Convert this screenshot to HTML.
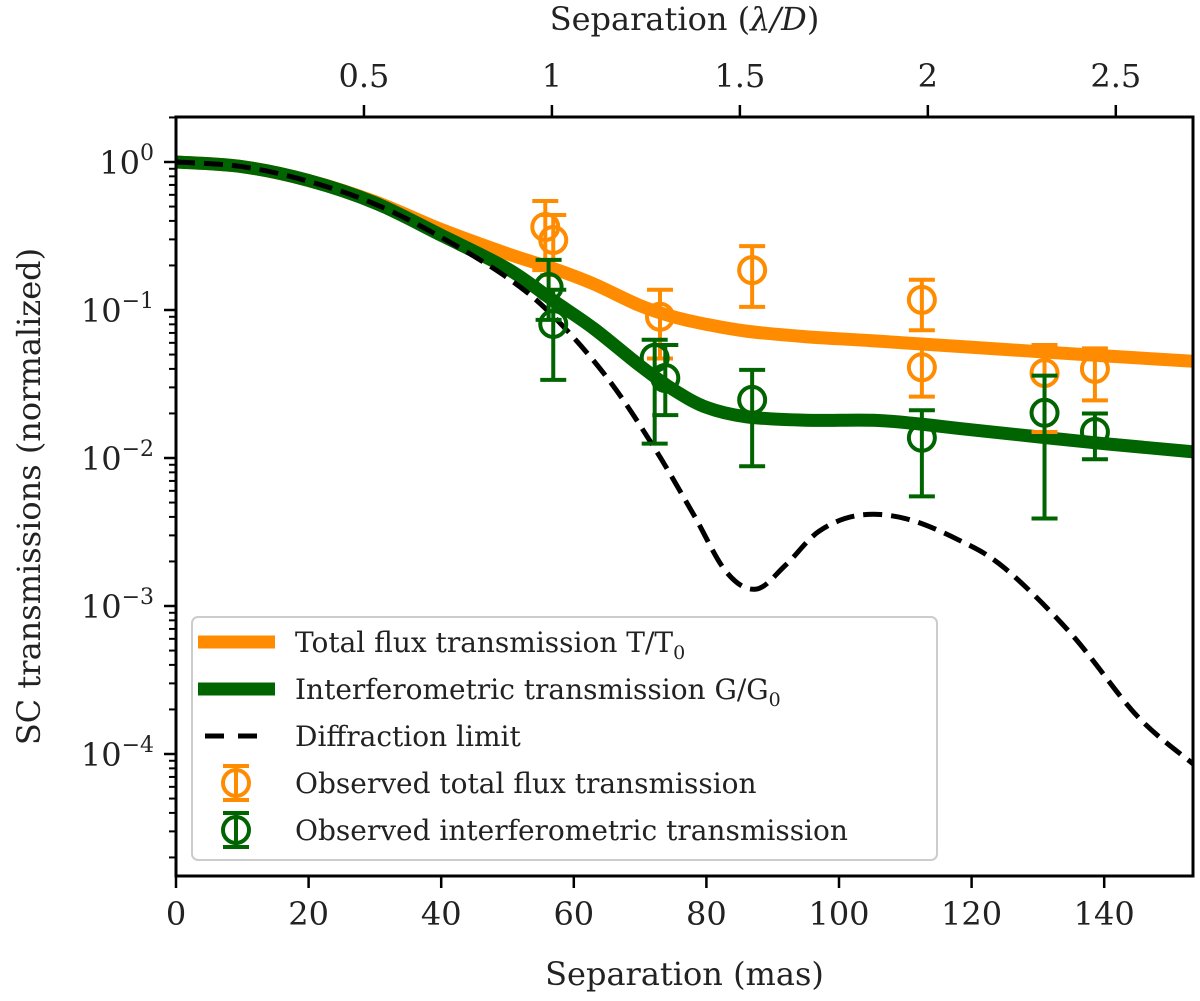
<!DOCTYPE html>
<html><head><meta charset="utf-8"><style>
html,body{margin:0;padding:0;background:#fff;}
svg{display:block;font-family:"DejaVu Serif","Liberation Serif",serif;}
</style></head><body>
<svg id="chart" width="1200" height="1001" viewBox="0 0 1200 1001" xmlns="http://www.w3.org/2000/svg">
<g id="plot"></g>
<g id="axes"></g>
<g id="legend"></g>
</svg>
<script>
// ---- data ----
const totalX = [0,10,20,30,40,50,57,63,70,75,80,86,95,105,120,140,153.5];
const totalY = [1,0.93,0.75,0.54,0.35,0.24,0.19,0.15,0.107,0.09,0.08,0.072,0.066,0.062,0.056,0.049,0.045];
const interX = [0,10,20,30,40,50,57,63,70,75,80,86,95,105,112,120,140,153.5];
const interY = [1,0.93,0.75,0.53,0.32,0.19,0.115,0.075,0.042,0.029,0.022,0.019,0.018,0.018,0.017,0.0155,0.0125,0.011];
const diffX = [0,10,20,30,40,50,57,65,72,78,83,87.5,92,97,103,110,118,125,135,145,153.5];
const diffY = [1,0.93,0.74,0.52,0.31,0.165,0.09,0.035,0.012,0.0042,0.0017,0.0013,0.0019,0.0032,0.0041,0.0039,0.0028,0.0018,0.00065,0.00018,0.000085];
const obsTotX = [55.7,56.9,73,86.9,112.5,112.5,131,138.6];
const obsTotY = [0.364,0.297,0.090,0.186,0.117,0.041,0.0375,0.040];
const obsTotLo = [0.186,0.172,0.047,0.105,0.073,0.026,0.015,0.0245];
const obsTotHi = [0.545,0.438,0.137,0.270,0.160,0.056,0.058,0.055];
const obsIntX = [56.2,56.9,72.2,73.8,86.9,112.5,131,138.6];
const obsIntY = [0.143,0.0805,0.0475,0.0347,0.0247,0.0137,0.0202,0.015];
const obsIntLo = [0.0857,0.0337,0.0125,0.0195,0.0088,0.0055,0.0039,0.0098];
const obsIntHi = [0.218,0.137,0.063,0.058,0.0394,0.021,0.036,0.020];
const xTicks = [0,20,40,60,80,100,120,140];
const topTicks = [0.5,1,1.5,2,2.5];
const topTickLabels = ["0.5","1","1.5","2","2.5"];
const yExp = [0,-1,-2,-3,-4];

// ---- scales ----
const L=176,R=1193,T=117,B=876;
const X0=176,PXM=6.63;
const MAS_PER_LD=56.7;
const Y0=162,PXD=148;
const sx=v=>X0+v*PXM;
const sy=v=>Y0-Math.log10(v)*PXD;
const NS="http://www.w3.org/2000/svg";
function mk(tag,attrs,parent){const e=document.createElementNS(NS,tag);for(const k in attrs)e.setAttribute(k,attrs[k]);parent.appendChild(e);return e;}
const plot=document.getElementById('plot'),axes=document.getElementById('axes'),leg=document.getElementById('legend');

const cp=mk('clipPath',{id:'clip'},plot);
mk('rect',{x:L,y:T,width:R-L,height:B-T},cp);

function smoothPath(xs,ys){
  const p=xs.map((x,i)=>[sx(x),sy(ys[i])]);
  let d=`M${p[0][0]},${p[0][1]}`;
  for(let i=0;i<p.length-1;i++){
    const p0=p[i-1]||p[i],p1=p[i],p2=p[i+1],p3=p[i+2]||p2;
    const c1=[p1[0]+(p2[0]-p0[0])/6,p1[1]+(p2[1]-p0[1])/6];
    const c2=[p2[0]-(p3[0]-p1[0])/6,p2[1]-(p3[1]-p1[1])/6];
    d+=` C${c1[0]},${c1[1]} ${c2[0]},${c2[1]} ${p2[0]},${p2[1]}`;
  }
  return d;
}
const g=mk('g',{'clip-path':'url(#clip)'},plot);
let e;
e=mk('path',{d:smoothPath(totalX,totalY),fill:'none',stroke:'#ff8c00','stroke-width':13,'stroke-linejoin':'round'},g);


e=mk('path',{d:smoothPath(interX,interY),fill:'none',stroke:'#006400','stroke-width':13,'stroke-linejoin':'round'},g);


e=mk('path',{d:smoothPath(diffX,diffY),fill:'none',stroke:'#000','stroke-width':5,'stroke-dasharray':'19,9'},g);



function points(xs,ys,lo,hi,col,name){
  xs.forEach((x,i)=>{
    const gg=mk('g',{},plot);
    
    
    const cx=sx(x),cy=sy(ys[i]),y1=sy(hi[i]),y2=sy(lo[i]);
    mk('line',{x1:cx,x2:cx,y1:y1,y2:y2,stroke:col,'stroke-width':4},gg);
    mk('line',{x1:cx-13,x2:cx+13,y1:y1,y2:y1,stroke:col,'stroke-width':4},gg);
    mk('line',{x1:cx-13,x2:cx+13,y1:y2,y2:y2,stroke:col,'stroke-width':4},gg);
    mk('circle',{cx:cx,cy:cy,r:13,fill:'none',stroke:col,'stroke-width':4},gg);
  });
}
points(obsTotX,obsTotY,obsTotLo,obsTotHi,'#ff8c00','observed-total-point');
points(obsIntX,obsIntY,obsIntLo,obsIntHi,'#006400','observed-interferometric-point');

// frame
e=mk('rect',{x:L,y:T,width:R-L,height:B-T,fill:'none',stroke:'#000','stroke-width':3},axes);


xTicks.forEach(v=>{
  mk('line',{x1:sx(v),x2:sx(v),y1:B,y2:B+12,stroke:'#000','stroke-width':2.5},axes);
  e=mk('text',{x:sx(v),y:B+49,'font-size':32,'text-anchor':'middle',fill:'#222'},axes);e.textContent=v;
  
  
});
topTicks.forEach((v,i)=>{
  const px=sx(v*MAS_PER_LD);
  mk('line',{x1:px,x2:px,y1:T,y2:T-12,stroke:'#000','stroke-width':2.5},axes);
  e=mk('text',{x:px,y:T-30,'font-size':32,'text-anchor':'middle',fill:'#222'},axes);e.textContent=topTickLabels[i];
  
  
});
yExp.forEach(k=>{
  const py=sy(Math.pow(10,k));
  mk('line',{x1:L,x2:L-12,y1:py,y2:py,stroke:'#000','stroke-width':2.5},axes);
  e=mk('text',{x:L-22,y:py+12,'font-size':32,'text-anchor':'end',fill:'#222'},axes);
  
  
  e.appendChild(document.createTextNode('10'));
  const ts=mk('tspan',{dy:-14,'font-size':22},e);ts.textContent=(k<0?'\u2212'+(-k):'0');
});
for(let k=-5;k<1;k++){for(let m=2;m<10;m++){const py=sy(m*Math.pow(10,k));if(py<T||py>B)continue;
  mk('line',{x1:L,x2:L-7,y1:py,y2:py,stroke:'#000','stroke-width':2},axes);}}
e=mk('text',{x:(L+R)/2,y:985,'font-size':32,'text-anchor':'middle',fill:'#222'},axes);e.textContent='Separation (mas)';


e=mk('text',{x:(L+R)/2,y:30,'font-size':32,'text-anchor':'middle',fill:'#222'},axes);


e.appendChild(document.createTextNode('Separation ('));
let it=mk('tspan',{'font-style':'italic'},e);it.textContent='\u03BB/D';
e.appendChild(document.createTextNode(')'));
e=mk('text',{x:0,y:0,'font-size':32,'text-anchor':'middle',fill:'#222',transform:`translate(40,${(T+B)/2}) rotate(-90)`},axes);
e.textContent='SC transmissions (normalized)';



// legend
e=mk('rect',{x:192,y:617,width:745,height:243,rx:6,fill:'#fff','fill-opacity':0.85,stroke:'#ccc','stroke-width':2},leg);


const legTexts=['Total flux transmission T/T','Interferometric transmission G/G','Diffraction limit','Observed total flux transmission','Observed interferometric transmission'];
const legY=[642,689,736,783,830];
legTexts.forEach((t,i)=>{
  const gg=mk('g',{},leg);
  
  
  const y=legY[i];
  if(i===0)mk('line',{x1:198,x2:275,y1:y,y2:y,stroke:'#ff8c00','stroke-width':13},gg);
  if(i===1)mk('line',{x1:198,x2:275,y1:y,y2:y,stroke:'#006400','stroke-width':13},gg);
  if(i===2)mk('line',{x1:205,x2:267,y1:y,y2:y,stroke:'#000','stroke-width':5,'stroke-dasharray':'19,14'},gg);
  if(i>=3){const c=i===3?'#ff8c00':'#006400';
    mk('line',{x1:236,x2:236,y1:y-17,y2:y+17,stroke:c,'stroke-width':4},gg);
    mk('line',{x1:223,x2:249,y1:y-17,y2:y-17,stroke:c,'stroke-width':4},gg);
    mk('line',{x1:223,x2:249,y1:y+17,y2:y+17,stroke:c,'stroke-width':4},gg);
    mk('circle',{cx:236,cy:y,r:13,fill:'none',stroke:c,'stroke-width':4},gg);}
  const tx=mk('text',{x:295,y:y+10,'font-size':28,fill:'#222'},gg);
  tx.appendChild(document.createTextNode(t));
  if(i<2){const s=mk('tspan',{dy:7,'font-size':19},tx);s.textContent='0';}
});
</script>
</body></html>
